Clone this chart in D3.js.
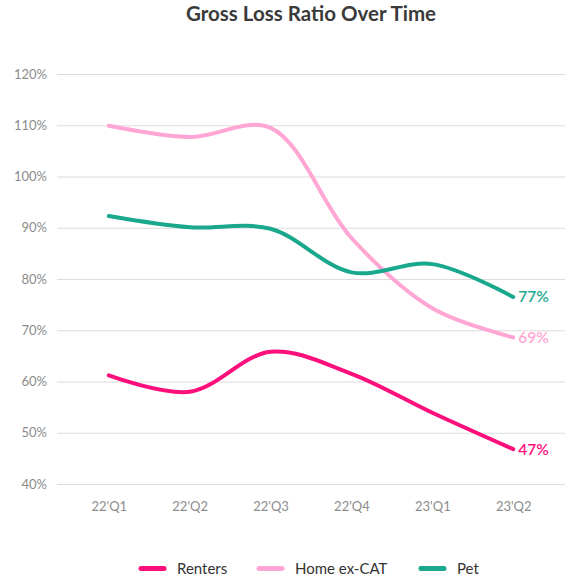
<!DOCTYPE html>
<html>
<head>
<meta charset="utf-8">
<script src="https://cdn.jsdelivr.net/npm/d3@7"></script>
<style>
  body { margin: 0; background: #fff; }
  svg { font-family: Lato, "Noto Sans", sans-serif; }
</style>
</head>
<body>
<svg></svg>
<script>
/* data */
var categories = ["22'Q1", "22'Q2", "22'Q3", "22'Q4", "23'Q1", "23'Q2"];
var renters = [61.2, 58.0, 65.8, 61.5, 53.9, 46.8];
var homeExCat = [109.9, 107.7, 109.5, 88.0, 74.3, 68.6];
var pet = [92.3, 90.1, 89.8, 81.3, 82.9, 76.5];
var yTicks = [40, 50, 60, 70, 80, 90, 100, 110, 120];
var seriesNames = ["Renters", "Home ex-CAT", "Pet"];
var seriesColors = ["#ff0f7b", "#ffa6d4", "#1aa88c"];

/* svg setting */
var svgWidth = 580;
var svgHeight = 583;
var margin = {top: 74, right: 15, bottom: 99, left: 57};
var width = svgWidth - margin.left - margin.right;
var height = svgHeight - margin.top - margin.bottom;
var scale = {};

var svg = d3.select("svg")
    .attr('width', svgWidth)
    .attr('height', svgHeight);

var g = svg.append('g')
    .attr('transform', translate(margin.left, margin.top));

var series = [renters, homeExCat, pet].map(function(vals, i){
  return {
    name: seriesNames[i],
    color: seriesColors[i],
    values: vals.map(function(v, j){ return {x: categories[j], y: v}; })
  };
});

setScale();
drawGrid();
drawLines();
drawLegend();

svg.append('text')
    .attr('x', margin.left + width / 2)
    .attr('y', 21)
    .attr('text-anchor', 'middle')
    .attr('font-size', 20.5)
    .attr('font-weight', 'bold')
    .attr('fill', '#3a3a3a')
    .text('Gross Loss Ratio Over Time');

function setScale(){
  scale.x = d3.scalePoint()
      .domain(categories)
      .range([0, width])
      .padding(0.64);
  scale.y = d3.scaleLinear()
      .domain([40, 120])
      .range([height, 0]);
}

function drawGrid(){
  var yAxis = g.append('g')
      .attr('class', 'y_axis')
      .call(d3.axisLeft(scale.y)
        .tickValues(yTicks)
        .tickSize(-width)
        .tickPadding(10)
        .tickFormat(function(d){ return d + '%'; }));
  yAxis.select('.domain').remove();
  yAxis.selectAll('line').attr('stroke', '#dcdcdc').attr('stroke-width', 1.2);
  yAxis.selectAll('text')
      .attr('font-size', 13)
      .attr('fill', '#8c8c8c')
      .attr('font-family', 'Lato, sans-serif');

  var xAxis = g.append('g')
      .attr('class', 'x_axis')
      .attr('transform', translate(0, height))
      .call(d3.axisBottom(scale.x).tickSize(0).tickPadding(18));
  xAxis.select('.domain').remove();
  xAxis.selectAll('text')
      .attr('font-size', 13)
      .attr('fill', '#8c8c8c')
      .attr('font-family', 'Lato, sans-serif');
}

function drawLines(){
  var line = d3.line()
      .x(function(d){ return scale.x(d.x); })
      .y(function(d){ return scale.y(d.y); })
      .curve(d3.curveCatmullRom);

  // draw order: home, pet, renters on top
  [1, 2, 0].forEach(function(i){
    var s = series[i];
    g.append('path')
        .datum(s.values)
        .attr('fill', 'none')
        .attr('stroke', s.color)
        .attr('stroke-width', 4)
        .attr('stroke-linecap', 'round')
        .attr('stroke-linejoin', 'round')
        .attr('d', line);

    var last = s.values[s.values.length - 1];
    g.append('text')
        .attr('x', scale.x(last.x) + 5)
        .attr('y', scale.y(last.y))
        .attr('dy', '0.35em')
        .attr('font-size', 15.5)
        .attr('font-weight', 600)
        .attr('fill', s.color)
        .text(Math.round(last.y) + '%');
  });
}

function drawLegend(){
  var legendX = [141, 259, 421];
  var legendY = 568.5;
  var lg = svg.append('g').attr('class', 'legend');
  series.forEach(function(s, i){
    lg.append('line')
        .attr('x1', legendX[i])
        .attr('x2', legendX[i] + 23)
        .attr('y1', legendY)
        .attr('y2', legendY)
        .attr('stroke', s.color)
        .attr('stroke-width', 5)
        .attr('stroke-linecap', 'round');
    lg.append('text')
        .attr('x', legendX[i] + 36)
        .attr('y', legendY)
        .attr('dy', '0.35em')
        .attr('font-size', 15)
        .attr('fill', '#333')
        .text(s.name);
  });
}

function translate(x, y) {
    return 'translate(' + x + ',' + y + ')';
}
</script>
</body>
</html>
